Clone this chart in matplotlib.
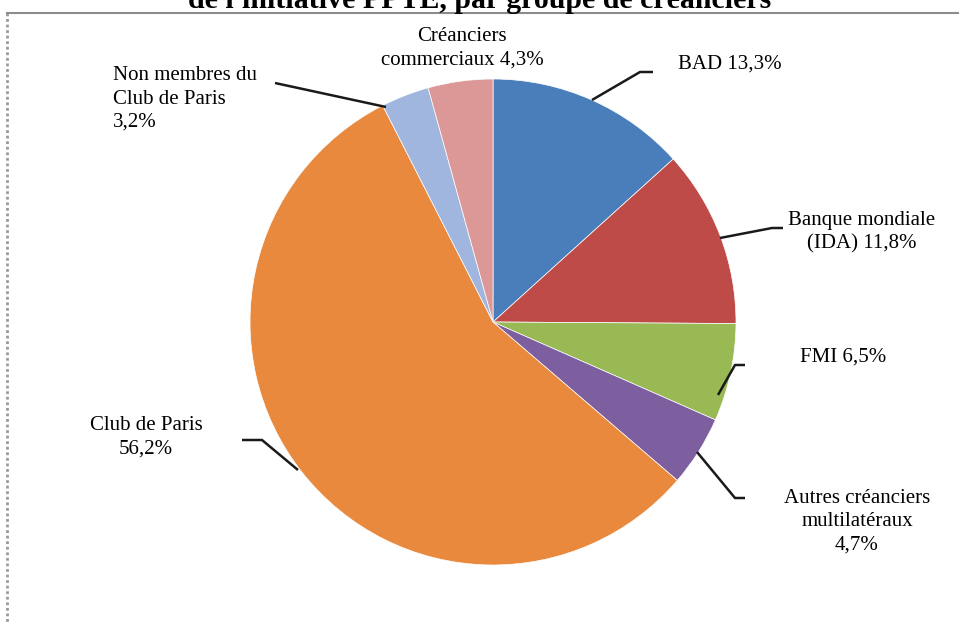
import matplotlib
matplotlib.use("Agg")
import matplotlib.pyplot as plt

# data
labels = ["BAD 13,3%", "Banque mondiale\n(IDA) 11,8%", "FMI 6,5%",
          "Autres créanciers\nmultilatéraux\n4,7%", "Club de Paris\n56,2%",
          "Non membres du\nClub de Paris\n3,2%", "Créanciers\ncommerciaux 4,3%"]
values = [13.3, 11.8, 6.5, 4.7, 56.2, 3.2, 4.3]
colors = ["#4a7ebb", "#be4b48", "#98b954", "#7d5fa0", "#e8893e", "#a0b6de", "#dc9896"]

W, H = 959, 624
fig = plt.figure(figsize=(W / 100, H / 100), dpi=100)
ax = fig.add_axes([0, 0, 1, 1])

plt.rcParams["font.family"] = ["Liberation Serif", "DejaVu Serif"]

def py(y):
    return H - y

cx, cy, r = 493, py(322), 243
ax.pie(values, colors=colors, startangle=90, counterclock=False,
       center=(cx, cy), radius=r, frame=True,
       wedgeprops=dict(linewidth=0.5, edgecolor="white"))
ax.set_xlim(0, W)
ax.set_ylim(0, H)
ax.set_aspect("equal")
ax.axis("off")

# leader lines (pixel coords)
leaders = [
    [(592, 100), (640, 72), (653, 72)],
    [(720, 238), (772, 228), (783, 228)],
    [(718, 395), (735, 365), (745, 365)],
    [(697, 452), (735, 498), (745, 498)],
    [(298, 470), (262, 440), (242, 440)],
    [(386, 107), (275, 83)],
]
for pts in leaders:
    ax.plot([p[0] for p in pts], [py(p[1]) for p in pts], color="#1a1a1a", lw=1.8,
            solid_capstyle="butt")

# label positions (x, y, ha)
pos = [(678, 64, "left"), (862, 232, "center"), (800, 357, "left"),
       (857, 522, "center"), (146, 437, "center"), (113, 99, "left"),
       (462, 48, "center")]
for lab, (x, y, ha) in zip(labels, pos):
    ax.text(x, py(y), lab, ha=ha, va="center", fontsize=15, color="#000000",
            linespacing=1.3, multialignment="center" if ha == "center" else "left")

# frame of the chart box
ax.plot([7, W], [py(13), py(13)], color="#8c8c8c", lw=1.5)
ax.plot([7, 7], [py(13), 0], color="#9a9a9a", lw=2, ls=(0, (1, 1)))

# title cut at the top
ax.text(480, py(0), "de l'initiative PPTE, par groupe de créanciers", ha="center",
        va="center", fontsize=21.5, fontweight="bold", color="#000000")

fig.savefig("out.png", dpi=100)
